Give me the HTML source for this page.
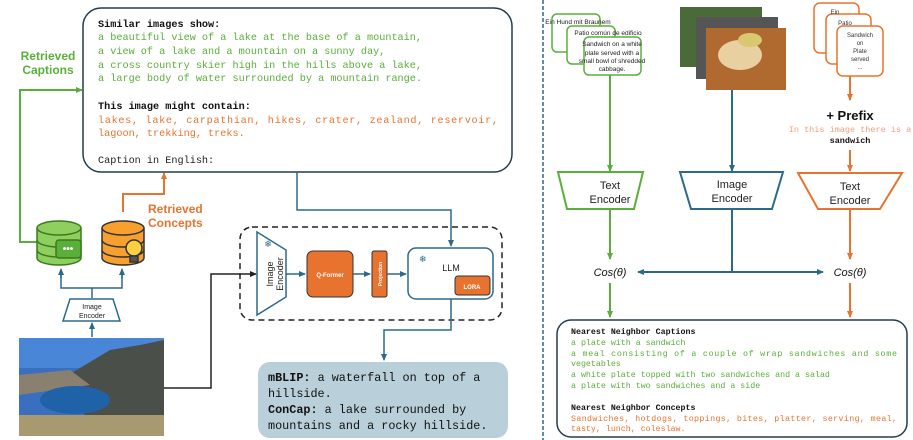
<!DOCTYPE html>
<html><head><style>body{margin:0;background:#fff}svg{display:block}</style></head><body>
<svg width="913" height="440" viewBox="0 0 913 440" xmlns="http://www.w3.org/2000/svg" font-family="Liberation Sans, sans-serif">
<defs>
<marker id="ab" markerWidth="8" markerHeight="8" refX="6" refY="4" orient="auto" markerUnits="userSpaceOnUse"><path d="M0,1 L7,4 L0,7z" fill="#2b6a8a"/></marker>
<marker id="ag" markerWidth="8" markerHeight="8" refX="6" refY="4" orient="auto" markerUnits="userSpaceOnUse"><path d="M0,1 L7,4 L0,7z" fill="#5aaf3a"/></marker>
<marker id="ao" markerWidth="8" markerHeight="8" refX="6" refY="4" orient="auto" markerUnits="userSpaceOnUse"><path d="M0,1 L7,4 L0,7z" fill="#e8732f"/></marker>
<marker id="ak" markerWidth="8" markerHeight="8" refX="6" refY="4" orient="auto" markerUnits="userSpaceOnUse"><path d="M0,1 L7,4 L0,7z" fill="#222"/></marker>
</defs>
<rect x="83" y="8" width="429" height="164" rx="18" fill="#fff" stroke="#1f3d4f" stroke-width="1.5"/>
<g font-family="Liberation Mono, monospace" font-size="10.2">
<text x="98" y="27" font-weight="bold" fill="#111">Similar images show:</text>
<g fill="#5aaf3a"><text x="98" y="40">a beautiful view of a lake at the base of a mountain,</text>
<text x="98" y="54">a view of a lake and a mountain on a sunny day,</text>
<text x="98" y="68">a cross country skier high in the hills above a lake,</text>
<text x="98" y="81">a large body of water surrounded by a mountain range.</text></g>
<text x="98" y="109" font-weight="bold" fill="#111">This image might contain:</text>
<g fill="#e8732f"><text x="98" y="123" textLength="400">lakes,  lake,  carpathian,  hikes,  crater,  zealand,  reservoir,</text>
<text x="98" y="136">lagoon, trekking, treks.</text></g>
<text x="98" y="163" fill="#222">Caption in English:</text>
</g>
<text x="48" y="60" font-size="12" font-weight="bold" fill="#5aaf3a" text-anchor="middle">Retrieved</text>
<text x="48" y="74" font-size="12" font-weight="bold" fill="#5aaf3a" text-anchor="middle">Captions</text>
<polyline points="37,242 20,242 20,90 82,90" fill="none" stroke="#5aaf3a" stroke-width="2" marker-end="url(#ag)"/>
<polyline points="123,212 123,194 164,194 164,173" fill="none" stroke="#e8732f" stroke-width="2" marker-end="url(#ao)"/>
<text x="148" y="213" font-size="12" font-weight="bold" fill="#e8732f">Retrieved</text>
<text x="148" y="227" font-size="12" font-weight="bold" fill="#e8732f">Concepts</text>
<polyline points="297,172 297,210 451,210 451,246" fill="none" stroke="#2b6a8a" stroke-width="1.5" marker-end="url(#ab)"/>
<g stroke="#3b7a1f" stroke-width="1.5" fill="#8fcf5f">
<path d="M37,228 v30 a22,7 0 0 0 44,0 v-30"/><ellipse cx="59" cy="228" rx="22" ry="7"/>
<path d="M37,240 a22,7 0 0 0 44,0 M37,250 a22,7 0 0 0 44,0" fill="none"/>
<rect x="56" y="240" width="25" height="18" rx="3" fill="#5aaf3a"/>
</g>
<text x="68" y="252" font-size="10" fill="#fff" text-anchor="middle" font-weight="bold">•••</text>
<g stroke="#333" stroke-width="1.5" fill="#f7a030">
<path d="M102,228 v30 a21,7 0 0 0 42,0 v-30"/><ellipse cx="123" cy="228" rx="21" ry="7"/>
<path d="M102,240 a21,7 0 0 0 42,0 M102,250 a21,7 0 0 0 42,0" fill="none"/>
<circle cx="134" cy="248" r="8" fill="#fbd040"/><rect x="130" y="256" width="8" height="6" fill="#555"/>
</g>
<polyline points="61,270 61,288 122,288 122,270" fill="none" stroke="#2b6a8a" stroke-width="1.5"/>
<line x1="61" y1="278" x2="61" y2="269" stroke="#2b6a8a" stroke-width="1.5" marker-end="url(#ab)"/>
<line x1="122" y1="278" x2="122" y2="269" stroke="#2b6a8a" stroke-width="1.5" marker-end="url(#ab)"/>
<line x1="92" y1="298" x2="92" y2="288" stroke="#2b6a8a" stroke-width="1.5"/>
<polygon points="70,299 113,299 120,321 63,321" fill="#fff" stroke="#2b6a8a" stroke-width="1.5"/>
<text x="92" y="309" font-size="7" text-anchor="middle" fill="#222">Image</text>
<text x="92" y="318" font-size="7" text-anchor="middle" fill="#222">Encoder</text>
<line x1="92" y1="337" x2="92" y2="323" stroke="#2b6a8a" stroke-width="1.5" marker-end="url(#ab)"/>
<rect x="19" y="338" width="145" height="98" fill="#3a6fc0"/>
<rect x="19" y="338" width="145" height="30" fill="#4a86d8"/>
<polygon points="60,380 110,350 140,345 164,340 164,436 100,436" fill="#4b4f4a"/>
<polygon points="19,375 70,370 90,385 19,395" fill="#8a8070"/>
<ellipse cx="75" cy="400" rx="35" ry="14" fill="#1f62a8"/>
<rect x="19" y="415" width="145" height="21" fill="#a89a70"/>
<polyline points="164,388 211,388 211,274 256,274" fill="none" stroke="#222" stroke-width="1.5" marker-end="url(#ak)"/>
<rect x="240" y="227" width="262" height="93" rx="12" fill="none" stroke="#222" stroke-width="1.5" stroke-dasharray="6,4"/>
<polygon points="257,232 286,250 286,297 257,315" fill="#fff" stroke="#2b6a8a" stroke-width="1.5"/>
<text transform="translate(273,274) rotate(-90)" font-size="9" text-anchor="middle" fill="#222"><tspan x="0" y="0">Image</tspan><tspan x="0" y="10">Encoder</tspan></text>
<text x="268" y="247" font-size="9" fill="#2b6a8a" text-anchor="middle">❄</text>
<line x1="286" y1="274" x2="305" y2="274" stroke="#2b6a8a" stroke-width="1.5" marker-end="url(#ab)"/>
<rect x="307" y="251" width="46" height="46" rx="6" fill="#e8732f" stroke="#333"/>
<text x="330" y="277" font-size="6" fill="#fff" text-anchor="middle" font-weight="bold">Q-Former</text>
<line x1="353" y1="274" x2="370" y2="274" stroke="#2b6a8a" stroke-width="1.5" marker-end="url(#ab)"/>
<rect x="372" y="251" width="15" height="46" rx="2" fill="#e8732f" stroke="#333"/>
<text transform="translate(382,274) rotate(-90)" font-size="5" fill="#fff" text-anchor="middle" font-weight="bold">Projection</text>
<line x1="387" y1="274" x2="406" y2="274" stroke="#2b6a8a" stroke-width="1.5" marker-end="url(#ab)"/>
<rect x="408" y="248" width="85" height="51" rx="8" fill="#fff" stroke="#2b6a8a" stroke-width="1.5"/>
<text x="419" y="262" font-size="9" fill="#2b6a8a">❄</text>
<text x="451" y="271" font-size="9" fill="#222" text-anchor="middle">LLM</text>
<rect x="455" y="276" width="35" height="19" rx="3" fill="#e8732f" stroke="#333"/>
<text x="472" y="289" font-size="6" fill="#fff" text-anchor="middle" font-weight="bold">LORA</text>
<polyline points="451,299 451,330 384,330 384,360" fill="none" stroke="#2b6a8a" stroke-width="1.5" marker-end="url(#ab)"/>
<rect x="258" y="362" width="250" height="76" rx="12" fill="#b9cfd9"/>
<g font-family="Liberation Mono, monospace" font-size="11.8" fill="#111">
<text x="268" y="381"><tspan font-weight="bold">mBLIP:</tspan> a waterfall on top of a</text>
<text x="268" y="397">hillside.</text>
<text x="268" y="413"><tspan font-weight="bold">ConCap:</tspan> a lake surrounded by</text>
<text x="268" y="429">mountains and a rocky hillside.</text>
</g>
<line x1="543" y1="0" x2="543" y2="440" stroke="#2b6a8a" stroke-width="1.5" stroke-dasharray="4,2"/>
<g fill="#fff" stroke="#5aaf3a" stroke-width="1.5">
<rect x="552" y="14" width="48" height="38" rx="5"/>
<rect x="567" y="26" width="48" height="38" rx="5"/>
<rect x="584" y="37" width="57" height="38" rx="5"/>
</g>
<g font-size="6.5" fill="#222" text-anchor="middle">
<text x="578" y="24">Ein Hund mit Braunem</text>
<text x="608" y="35">Patio común de edificio</text>
<text x="612" y="46">Sandwich on a white</text>
<text x="612" y="55">plate served with a</text>
<text x="612" y="63">small bowl of shredded</text>
<text x="612" y="71">cabbage.</text>
</g>
<rect x="680" y="7" width="82" height="60" fill="#4a6a3a"/>
<rect x="696" y="17" width="82" height="62" fill="#555"/>
<rect x="706" y="28" width="80" height="62" fill="#b06a30"/>
<ellipse cx="740" cy="55" rx="22" ry="15" fill="#e8d0a0"/>
<ellipse cx="750" cy="40" rx="12" ry="7" fill="#d8c870"/>
<g fill="#fff" stroke="#e8732f" stroke-width="1.5">
<rect x="814" y="3" width="45" height="50" rx="6"/>
<rect x="826" y="14" width="45" height="50" rx="6"/>
<rect x="837" y="26" width="46" height="50" rx="6"/>
</g>
<g font-size="6" fill="#333" text-anchor="middle">
<text x="835" y="14">Ein</text><text x="845" y="25">Patio</text>
<text x="860" y="37">Sandwich</text><text x="860" y="45">on</text><text x="860" y="53">Plate</text><text x="860" y="61">served</text><text x="860" y="69">...</text>
</g>
<text x="850" y="120" font-size="13" font-weight="bold" text-anchor="middle" fill="#111">+ Prefix</text>
<text x="850" y="132" font-family="Liberation Mono, monospace" font-size="8.5" fill="#f0a080" text-anchor="middle">In this image there is a</text>
<text x="850" y="143" font-family="Liberation Mono, monospace" font-size="8.5" font-weight="bold" fill="#111" text-anchor="middle">sandwich</text>
<line x1="610" y1="75" x2="610" y2="171" stroke="#5aaf3a" stroke-width="2" marker-end="url(#ag)"/>
<line x1="732" y1="90" x2="732" y2="171" stroke="#2b6a8a" stroke-width="2" marker-end="url(#ab)"/>
<line x1="850" y1="76" x2="850" y2="100" stroke="#e8732f" stroke-width="2" marker-end="url(#ao)"/>
<line x1="850" y1="150" x2="850" y2="171" stroke="#e8732f" stroke-width="2" marker-end="url(#ao)"/>
<polygon points="558,172 643,172 634,209 567,209" fill="#fff" stroke="#5aaf3a" stroke-width="2"/>
<polygon points="680,172 783,172 772,209 691,209" fill="#fff" stroke="#2b6a8a" stroke-width="2"/>
<polygon points="798,173 902,173 880,209 818,209" fill="#fff" stroke="#e8732f" stroke-width="2"/>
<g font-size="11" fill="#222" text-anchor="middle">
<text x="610" y="189">Text</text><text x="610" y="203">Encoder</text>
<text x="732" y="188">Image</text><text x="732" y="202">Encoder</text>
<text x="850" y="190">Text</text><text x="850" y="204">Encoder</text>
</g>
<line x1="610" y1="209" x2="610" y2="259" stroke="#5aaf3a" stroke-width="2" marker-end="url(#ag)"/>
<line x1="850" y1="209" x2="850" y2="259" stroke="#e8732f" stroke-width="2" marker-end="url(#ao)"/>
<line x1="732" y1="209" x2="732" y2="272" stroke="#2b6a8a" stroke-width="2"/>
<line x1="732" y1="272" x2="638" y2="272" stroke="#2b6a8a" stroke-width="2" marker-end="url(#ab)"/>
<line x1="732" y1="272" x2="823" y2="272" stroke="#2b6a8a" stroke-width="2" marker-end="url(#ab)"/>
<text x="610" y="276" font-size="11" font-style="italic" text-anchor="middle" fill="#111">Cos(θ)</text>
<text x="850" y="276" font-size="11" font-style="italic" text-anchor="middle" fill="#111">Cos(θ)</text>
<line x1="610" y1="283" x2="610" y2="317" stroke="#5aaf3a" stroke-width="2" marker-end="url(#ag)"/>
<line x1="850" y1="283" x2="850" y2="317" stroke="#e8732f" stroke-width="2" marker-end="url(#ao)"/>
<rect x="557" y="320" width="350" height="117" rx="14" fill="#fff" stroke="#1f3d4f" stroke-width="1.5"/>
<g font-family="Liberation Mono, monospace" font-size="8.3">
<text x="571" y="334" font-weight="bold" fill="#111">Nearest Neighbor Captions</text>
<g fill="#5aaf3a">
<text x="571" y="345">a plate with a sandwich</text>
<text x="571" y="356" textLength="326">a meal  consisting  of  a  couple  of  wrap  sandwiches  and  some</text>
<text x="571" y="366">vegetables</text>
<text x="571" y="377">a white plate topped with two sandwiches and a salad</text>
<text x="571" y="388">a plate with two sandwiches and a side</text>
</g>
<text x="571" y="410" font-weight="bold" fill="#111">Nearest Neighbor Concepts</text>
<g fill="#e8732f">
<text x="571" y="421" textLength="326">Sandwiches, hotdogs, toppings, bites, platter, serving, meal,</text>
<text x="571" y="431">tasty, lunch, coleslaw.</text>
</g>
</g>
</svg>
</body></html>
